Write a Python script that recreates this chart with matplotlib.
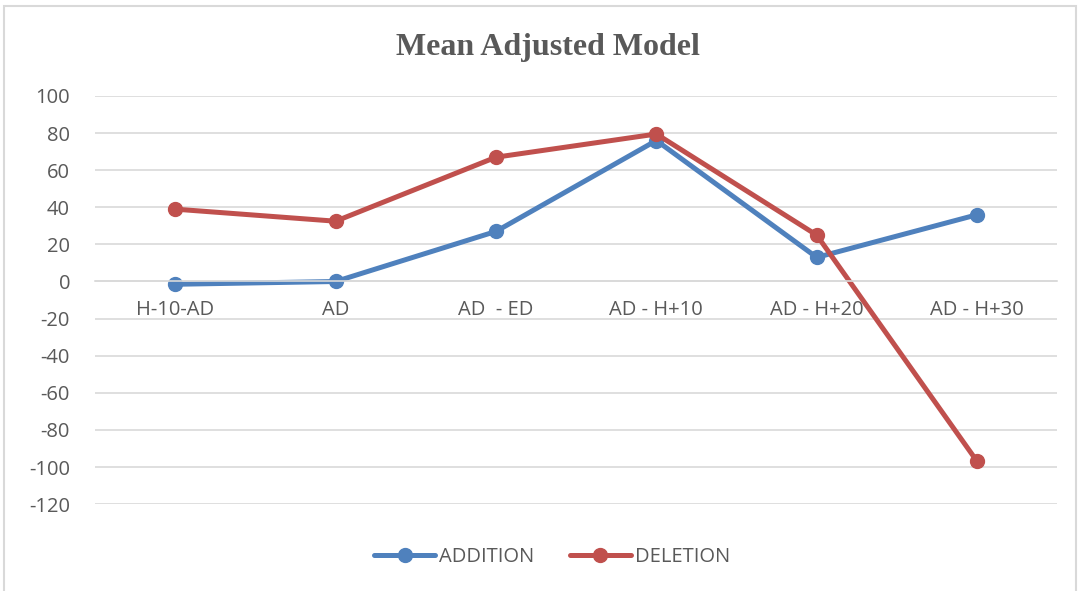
import matplotlib
matplotlib.use('Agg')
import matplotlib.pyplot as plt
from matplotlib.patches import Rectangle

categories = ['H-10-AD', 'AD', 'AD  - ED', 'AD - H+10', 'AD - H+20', 'AD - H+30']
addition = [-1.5, 0, 27, 76, 13, 36]
deletion = [39, 32.5, 67, 79.5, 25, -97]

plt.rcParams['axes.unicode_minus'] = False


def main():
    fig = plt.figure(figsize=(10.8, 5.91), dpi=100)
    ax = fig.add_axes([0.088, 0.147, 0.891, 0.6906])

    # chart border like Excel
    fig.patches.append(Rectangle((0.004, -0.01), 0.992, 1.0, transform=fig.transFigure,
                                 fill=False, edgecolor='#d9d9d9', linewidth=1.5))

    x = list(range(len(categories)))
    ax.plot(x, addition, color='#4F81BD', linewidth=3.6, marker='o', markersize=10,
            label='ADDITION', solid_capstyle='round')
    ax.plot(x, deletion, color='#C0504D', linewidth=3.6, marker='o', markersize=10,
            label='DELETION', solid_capstyle='round')

    ax.set_xlim(-0.5, len(categories) - 0.5)
    ax.set_ylim(-120, 100)
    ax.set_yticks(range(-120, 101, 20))
    ax.yaxis.grid(True, color='#d9d9d9', linewidth=1.2)
    ax.set_axisbelow(True)

    for s in ['top', 'right', 'left']:
        ax.spines[s].set_visible(False)
    ax.spines['bottom'].set_position(('data', 0))
    ax.spines['bottom'].set_color('#d9d9d9')
    ax.spines['bottom'].set_linewidth(1.2)

    ax.set_xticks(x)
    ax.set_xticklabels(categories)
    ax.tick_params(axis='x', length=0, pad=13, labelsize=14.5, labelcolor='#595959')
    ax.tick_params(axis='y', length=0, pad=18, labelsize=14.5, labelcolor='#595959')
    for lab in ax.get_xticklabels() + ax.get_yticklabels():
        lab.set_family('Open Sans')

    fig.text(0.507, 0.92, 'Mean Adjusted Model', ha='center', va='center',
             family='Liberation Serif', fontweight='bold', fontsize=23, color='#595959')

    leg = ax.legend(loc='upper center', bbox_to_anchor=(0.475, -0.085), ncol=2, frameon=False,
                    prop={'family': 'Open Sans', 'size': 14.5}, handlelength=3,
                    columnspacing=1.8, handletextpad=0.2, borderaxespad=0)
    for t in leg.get_texts():
        t.set_color('#595959')

    fig.savefig('out.png', dpi=100)


if __name__ == '__main__':
    main()
